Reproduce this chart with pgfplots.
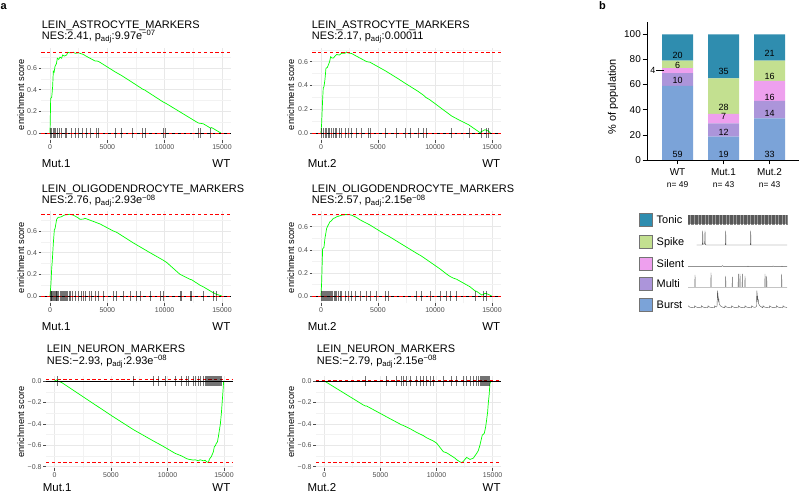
\documentclass[border=0pt]{standalone}
\usepackage{fontspec}
\setmainfont{Liberation Sans}
\usepackage{pgfplots}
\pgfplotsset{compat=1.18}

\definecolor{cTonic}{HTML}{2F8DAF}
\definecolor{cSpike}{HTML}{C3E090}
\definecolor{cSilent}{HTML}{EEA0EE}
\definecolor{cMulti}{HTML}{AC95DA}
\definecolor{cBurst}{HTML}{7BA3D8}
\definecolor{esgreen}{HTML}{00FF00}

\pgfplotsset{
  gsea/.style={
    scale only axis, height=92bp, anchor=south west,
    xmin=-750, xmax=15750,
    axis lines=left, axis line style={draw=none},
    xtick={0,5000,10000,15000}, xticklabels={0,5000,10000,15000},
    scaled x ticks=false, scaled y ticks=false,
    minor xtick={2500,7500,12500},
    grid=both,
    major grid style={black!9, line width=0.55bp},
    minor grid style={black!5, line width=0.35bp},
    tick style={color=black!70, line width=0.5bp},
    major tick length=2.8bp, minor tick length=0pt, tick align=outside,
    ticklabel style={font=\fontsize{7}{8}\selectfont, text=black!70, inner sep=1.5bp},
    clip=false,
  },
  posy/.style={ytick={0,0.2,0.4,0.6}, yticklabels={0.0,0.2,0.4,0.6}, minor ytick={0.1,0.3,0.5,0.7}},
  negy/.style={ymin=-0.812, ymax=0.047, ytick={-0.8,-0.6,-0.4,-0.2,0},
    yticklabels={−0.8,−0.6,−0.4,−0.2,0.0}, minor ytick={-0.7,-0.5,-0.3,-0.1}},
  escurve/.style={color=esgreen, line width=0.7bp},
  rug/.style={only marks, mark=|, mark size=5bp,
    mark options={draw=black, line width=0.55bp, draw opacity=0.55}},
  zeroline/.style={black, line width=0.6bp},
  esline/.style={red, line width=0.7bp, dash pattern=on 3.2bp off 2.6bp},
  trace/.style={black!65, line width=0.4bp},
}

\newcommand{\ttlfont}{\fontsize{11}{12}\selectfont}
\newcommand{\grpfont}{\fontsize{11.5}{12}\selectfont}
\newcommand{\eslfont}{\fontsize{9.3}{10}\selectfont}

\begin{document}
\begin{tikzpicture}[x=1bp, y=1bp]
\path[use as bounding box] (0,0) rectangle (800,502);

\node[anchor=base west, inner sep=0, font=\bfseries\fontsize{11}{12}\selectfont] at (0.5,492.7) {a};
\node[anchor=base west, inner sep=0, font=\bfseries\fontsize{11}{12}\selectfont] at (599,492) {b};

% ---------- row 1, Mut.1 ----------
\begin{axis}[gsea, posy, at={(41.4bp,361.5bp)}, width=189.2bp, ymin=-0.069, ymax=0.78]
\addplot[escurve] coordinates {(0,0) (60,0.32) (150,0.33) (232,0.43) (290,0.57) (360,0.56) (436,0.615)
 (560,0.64) (640,0.69) (760,0.68) (872,0.70) (1017,0.69) (1100,0.72) (1250,0.71) (1453,0.72)
 (1550,0.745) (1700,0.74) (1889,0.74) (2034,0.745) (2200,0.735) (2470,0.74) (2907,0.725)
 (3139,0.71) (3488,0.69) (3925,0.665) (4069,0.665) (4243,0.66) (5668,0.565) (6249,0.53)
 (7208,0.465) (8080,0.405) (8284,0.395) (9885,0.285) (10088,0.275) (12938,0.092) (13080,0.09)
 (13370,0.085) (14010,0.045) (14100,0.05) (14900,0)};
\addplot[rug] coordinates {(0,0)(145,0)(290,0)(378,0)(494,0)(640,0)(814,0)(1017,0)(1308,0)(1453,0)
 (1831,0)(2180,0)(2470,0)(2848,0)(3139,0)(3488,0)(4069,0)(4243,0)(5668,0)(6249,0)(7208,0)
 (8080,0)(8284,0)(9885,0)(10088,0)(12938,0)(13080,0)(14010,0)};
\addplot[zeroline] coordinates {(-750,0) (15750,0)};
\addplot[esline] coordinates {(-750,0.745) (15750,0.745)};
\addplot[esline] coordinates {(-750,0) (15750,0)};
\end{axis}

% ---------- row 1, Mut.2 ----------
\begin{axis}[gsea, posy, at={(312.4bp,361.5bp)}, width=188.1bp, ymin=-0.060, ymax=0.71]
\addplot[escurve] coordinates {(0,0) (58,0.08) (146,0.28) (200,0.38) (263,0.39) (351,0.45) (439,0.545)
 (550,0.55) (643,0.57) (760,0.60) (848,0.64) (960,0.63) (1082,0.63) (1228,0.645) (1374,0.66)
 (1608,0.655) (1813,0.67) (2105,0.67) (2251,0.68) (2397,0.672) (2690,0.668) (3128,0.645)
 (3421,0.63) (4005,0.60) (4298,0.595) (5614,0.525) (6637,0.465) (7368,0.42) (8537,0.35)
 (8976,0.32) (9210,0.30) (9561,0.28) (11461,0.145) (12046,0.115) (12981,0.07) (13947,0.006)
 (14092,0.015) (14386,0.03) (14677,0.02) (14900,0)};
\addplot[rug] coordinates {(58,0)(205,0)(351,0)(497,0)(643,0)(731,0)(877,0)(1082,0)(1228,0)(1374,0)
 (1608,0)(1813,0)(2105,0)(2397,0)(2690,0)(3128,0)(3567,0)(4152,0)(4298,0)(5614,0)(6637,0)
 (7368,0)(7806,0)(8537,0)(8976,0)(9210,0)(11461,0)(12981,0)(14092,0)(14531,0)(14677,0)};
\addplot[zeroline] coordinates {(-750,0) (15750,0)};
\addplot[esline] coordinates {(-750,0.68) (15750,0.68)};
\addplot[esline] coordinates {(-750,0) (15750,0)};
\end{axis}

% ---------- row 2, Mut.1 ----------
\begin{axis}[gsea, posy, at={(41.4bp,198.5bp)}, width=189.2bp, ymin=-0.069, ymax=0.78]
\addplot[escurve] coordinates {(0,0) (87,0.117) (145,0.25) (203,0.33) (290,0.486) (378,0.61) (436,0.62)
 (494,0.655) (581,0.708) (668,0.72) (727,0.726) (872,0.728) (1017,0.732) (1163,0.742) (1308,0.748)
 (1453,0.75) (1744,0.754) (1976,0.748) (2180,0.738) (2470,0.72) (2616,0.708) (2907,0.71)
 (3052,0.717) (3488,0.70) (4360,0.665) (5523,0.6) (5813,0.588) (7266,0.49) (8719,0.40)
 (9881,0.33) (10173,0.31) (11335,0.2) (12208,0.154) (12353,0.15) (13080,0.10) (13370,0.085)
 (14240,0.03) (14533,0.015) (14824,0.006) (14970,0)};
\addplot[rug] coordinates {(0,0)(87,0)(145,0)(203,0)(290,0)(349,0)(436,0)(523,0)(581,0)(668,0)(756,0)
 (872,0)(959,0)(1046,0)(1163,0)(1250,0)(1337,0)(1453,0)(1540,0)(1657,0)(1744,0)(1976,0)(2209,0)
 (2470,0)(2703,0)(2907,0)(3052,0)(3430,0)(3634,0)(3925,0)(4215,0)(4651,0)(5523,0)(5813,0)
 (6394,0)(6975,0)(7556,0)(7847,0)(8719,0)(9591,0)(9881,0)(11335,0)(11480,0)(12208,0)(12353,0)
 (13370,0)(14240,0)(14533,0)};
\addplot[zeroline] coordinates {(-750,0) (15750,0)};
\addplot[esline] coordinates {(-750,0.754) (15750,0.754)};
\addplot[esline] coordinates {(-750,0) (15750,0)};
\end{axis}

% ---------- row 2, Mut.2 ----------
\begin{axis}[gsea, posy, at={(312.4bp,198.5bp)}, width=188.1bp, ymin=-0.065, ymax=0.732]
\addplot[escurve] coordinates {(0,0) (58,0.11) (146,0.41) (263,0.42) (351,0.50) (439,0.55) (497,0.585)
 (614,0.61) (789,0.643) (906,0.65) (1082,0.672) (1257,0.678) (1374,0.686) (1520,0.69) (1813,0.70)
 (2105,0.705) (2397,0.707) (2690,0.70) (3128,0.68) (3421,0.66) (4005,0.63) (4298,0.615)
 (5614,0.535) (5906,0.52) (8391,0.37) (8829,0.345) (9561,0.295) (10438,0.235) (11022,0.19)
 (11315,0.17) (11607,0.155) (11899,0.145) (13070,0.08) (13507,0.045) (13655,0.04) (14094,0.009)
 (14238,0.012) (14386,0.023) (14531,0.02) (14678,0.014) (14970,0)};
\addplot[rug] coordinates {(0,0)(88,0)(175,0)(263,0)(351,0)(439,0)(526,0)(614,0)(702,0)(789,0)(906,0)
 (1023,0)(1140,0)(1257,0)(1374,0)(1520,0)(1666,0)(1813,0)(2105,0)(2397,0)(2690,0)(2982,0)
 (3421,0)(4005,0)(4298,0)(4883,0)(5614,0)(5906,0)(8391,0)(8829,0)(9561,0)(10438,0)(11022,0)
 (11315,0)(11899,0)(13507,0)(14238,0)(14531,0)};
\addplot[zeroline] coordinates {(-750,0) (15750,0)};
\addplot[esline] coordinates {(-750,0.707) (15750,0.707)};
\addplot[esline] coordinates {(-750,0) (15750,0)};
\end{axis}

% ---------- row 3, Mut.1 ----------
\begin{axis}[gsea, negy, at={(46bp,34bp)}, width=186.5bp]
\addplot[escurve] coordinates {(0,0) (209,0.012) (300,0.0) (652,-0.015) (5000,-0.32) (7000,-0.455)
 (8755,-0.56) (9197,-0.585) (9786,-0.62) (10670,-0.675) (11259,-0.70) (11701,-0.725)
 (11849,-0.73) (12291,-0.738) (12438,-0.735) (12733,-0.745) (12880,-0.735) (13175,-0.745)
 (13322,-0.74) (13469,-0.755) (13617,-0.76) (13705,-0.73) (13882,-0.705) (14058,-0.66)
 (14147,-0.61) (14235,-0.605) (14323,-0.58) (14412,-0.57) (14500,-0.52) (14588,-0.46)
 (14677,-0.40) (14765,-0.30) (14850,-0.18) (14904,-0.10) (14963,-0.006) (15000,0)};
\addplot[rug] coordinates {(209,0)(7000,0)(8755,0)(9197,0)(9786,0)(10670,0)(11259,0)(11701,0)
 (11849,0)(12291,0)(12438,0)(12733,0)(12880,0)(13175,0)(13322,0)(13469,0)(13528,0)(13617,0)
 (13705,0)(13793,0)(13882,0)(13970,0)(14058,0)(14147,0)(14235,0)(14323,0)(14412,0)(14500,0)
 (14588,0)(14677,0)(14765,0)};
\addplot[zeroline] coordinates {(-750,0) (15750,0)};
\addplot[esline] coordinates {(-750,0.015) (15750,0.015)};
\addplot[esline] coordinates {(-750,-0.76) (15750,-0.76)};
\end{axis}

% ---------- row 3, Mut.2 ----------
\begin{axis}[gsea, negy, at={(316bp,34bp)}, width=185bp]
\addplot[escurve] coordinates {(0,0) (3478,-0.224) (3626,-0.232) (3775,-0.234) (5557,-0.335)
 (6448,-0.385) (6893,-0.41) (7042,-0.415) (7339,-0.43) (7636,-0.445) (8230,-0.48) (8527,-0.495)
 (8824,-0.51) (9121,-0.53) (9418,-0.545) (9715,-0.56) (10011,-0.58) (10606,-0.66) (10902,-0.67)
 (11348,-0.70) (11644,-0.72) (11794,-0.735) (12238,-0.763) (12388,-0.75) (12683,-0.713)
 (12982,-0.732) (13279,-0.72) (13576,-0.676) (13724,-0.65) (13873,-0.598) (14021,-0.53)
 (14079,-0.505) (14200,-0.495) (14257,-0.489) (14378,-0.43) (14465,-0.364) (14556,-0.29)
 (14614,-0.209) (14700,-0.12) (14762,-0.022) (14851,0)};
\addplot[rug] coordinates {(3626,0)(5557,0)(6448,0)(6893,0)(7042,0)(7339,0)(7636,0)(8230,0)(8527,0)
 (8824,0)(9121,0)(9418,0)(9715,0)(10606,0)(11348,0)(11794,0)(12388,0)(12685,0)(12982,0)
 (13279,0)(13576,0)(13724,0)(13873,0)(14021,0)(14111,0)(14200,0)(14289,0)(14378,0)(14467,0)
 (14556,0)(14645,0)(14734,0)};
\addplot[zeroline] coordinates {(-750,0) (15750,0)};
\addplot[esline] coordinates {(-750,0.01) (15750,0.01)};
\addplot[esline] coordinates {(-750,-0.763) (15750,-0.763)};
\end{axis}

% ---------- titles and labels of panel a ----------
\begin{scope}[every node/.style={anchor=base west, inner sep=0}]
\node[font=\ttlfont] at (41.7,473.3) {LEIN\_ASTROCYTE\_MARKERS};
\node[font=\ttlfont] at (41.7,462.5) {NES:2.41, p\textsubscript{adj}:9.97e\textsuperscript{−07}};
\node[font=\ttlfont] at (311.7,473.3) {LEIN\_ASTROCYTE\_MARKERS};
\node[font=\ttlfont] at (311.7,462.5) {NES:2.17, p\textsubscript{adj}:0.00011};
\node[font=\ttlfont] at (41.7,309.7) {LEIN\_OLIGODENDROCYTE\_MARKERS};
\node[font=\ttlfont] at (41.7,298) {NES:2.76, p\textsubscript{adj}:2.93e\textsuperscript{−08}};
\node[font=\ttlfont] at (311.7,309.7) {LEIN\_OLIGODENDROCYTE\_MARKERS};
\node[font=\ttlfont] at (311.7,298) {NES:2.57, p\textsubscript{adj}:2.15e\textsuperscript{−08}};
\node[font=\ttlfont] at (46.7,149.3) {LEIN\_NEURON\_MARKERS};
\node[font=\ttlfont] at (46.7,137.7) {NES:−2.93, p\textsubscript{adj}:2.93e\textsuperscript{−08}};
\node[font=\ttlfont] at (316.7,149.3) {LEIN\_NEURON\_MARKERS};
\node[font=\ttlfont] at (316.7,137.7) {NES:−2.79, p\textsubscript{adj}:2.15e\textsuperscript{−08}};
\node[font=\grpfont] at (41.7,334.3) {Mut.1};
\node[font=\grpfont] at (307.7,334.3) {Mut.2};
\node[font=\grpfont] at (41.7,171.3) {Mut.1};
\node[font=\grpfont] at (307.7,171.3) {Mut.2};
\node[font=\grpfont] at (42.7,10.3) {Mut.1};
\node[font=\grpfont] at (307.3,10.3) {Mut.2};
\end{scope}
\begin{scope}[every node/.style={anchor=base east, inner sep=0, font=\grpfont}]
\node at (230.5,334.3) {WT};
\node at (500.3,334.3) {WT};
\node at (230.5,171.3) {WT};
\node at (500.3,171.3) {WT};
\node at (230.5,10.3) {WT};
\node at (500.7,10.3) {WT};
\end{scope}
\begin{scope}[every node/.style={rotate=90, inner sep=0, font=\eslfont}]
\node at (20.7,407.5) {enrichment score};
\node at (290.7,407.5) {enrichment score};
\node at (20.7,244.5) {enrichment score};
\node at (290.7,244.5) {enrichment score};
\node at (20.7,80) {enrichment score};
\node at (290.7,80) {enrichment score};
\end{scope}

% ---------- panel b: stacked bars ----------
\begin{axis}[scale only axis, anchor=south west, at={(647bp,342bp)}, width=152bp, height=138.3bp,
  xmin=-0.663, xmax=2.64, ymin=0, ymax=110,
  axis lines=left, axis line style={-, line width=0.6bp},
  ybar stacked, bar width=0.674,
  xtick={0,1,2},
  xticklabels={{WT\\[2bp]{\fontsize{8.5}{9}\selectfont n= 49}},
               {Mut.1\\[2bp]{\fontsize{8.5}{9}\selectfont n= 43}},
               {Mut.2\\[2bp]{\fontsize{8.5}{9}\selectfont n= 43}}},
  ytick={0,20,40,60,80,100}, yticklabels={0,20,40,60,80,100},
  tick style={black, line width=0.6bp}, major tick length=4.5bp, tick align=outside,
  xticklabel style={align=center, font=\fontsize{10}{10.5}\selectfont, inner sep=1bp, yshift=-2.5bp},
  yticklabel style={font=\fontsize{10}{11}\selectfont, inner sep=1.5bp},
  every axis plot/.append style={draw=none},
]
\addplot[fill=cBurst]  coordinates {(0,59) (1,18.5) (2,33)};
\addplot[fill=cMulti]  coordinates {(0,10) (1,10.7) (2,14)};
\addplot[fill=cSilent] coordinates {(0,4)  (1,7.4)  (2,16)};
\addplot[fill=cSpike]  coordinates {(0,6)  (1,28.4) (2,16)};
\addplot[fill=cTonic]  coordinates {(0,21) (1,35)   (2,21)};
\end{axis}

% segment labels
\begin{axis}[scale only axis, anchor=south west, at={(647bp,342bp)}, width=152bp, height=138.3bp,
  xmin=-0.663, xmax=2.64, ymin=0, ymax=110, hide axis, clip=false]
\addplot[draw=none, nodes near coords, point meta=explicit symbolic,
  every node near coord/.append style={anchor=center, inner sep=0, font=\fontsize{9}{10}\selectfont}]
  coordinates {(0,4.8)[59] (0,63.3)[10] (0,75.2)[6] (0,83.5)[20] (-0.535,71.4)[4]
   (1,4.8)[19] (1,21.8)[12] (1,34.4)[7] (1,41.9)[28] (1,70.3)[35]
   (2,4.8)[33] (2,36.8)[14] (2,50)[16] (2,66.3)[16] (2,84.9)[21]};
\addplot[black, line width=0.6bp] coordinates {(-0.46,71.4) (-0.29,71.4)};
\end{axis}

\node[rotate=90, inner sep=0, font=\fontsize{11}{12}\selectfont] at (613,405) {\% of population};

% ---------- legend ----------
\begin{scope}[every node/.style={anchor=base west, inner sep=0, font=\fontsize{11}{12}\selectfont}]
\draw[fill=cTonic, draw=black!55, line width=0.5bp] (639.3,275.3) rectangle (652.7,288.7);
\node at (656.5,278) {Tonic};
\draw[fill=cSpike, draw=black!55, line width=0.5bp] (639.3,253.3) rectangle (652.7,266.7);
\node at (656.5,256) {Spike};
\draw[fill=cSilent, draw=black!55, line width=0.5bp] (639.3,231.6) rectangle (652.7,245);
\node at (656.5,234.3) {Silent};
\draw[fill=cMulti, draw=black!55, line width=0.5bp] (639.3,211.6) rectangle (652.7,225);
\node at (656.5,214.3) {Multi};
\draw[fill=cBurst, draw=black!55, line width=0.5bp] (639.3,190.8) rectangle (652.7,204.2);
\node at (656.5,193.5) {Burst};
\end{scope}

% example traces
\begin{axis}[scale only axis, anchor=south west, at={(687bp,190bp)}, width=100bp, height=100bp,
  xmin=0, xmax=100, ymin=0, ymax=100, hide axis, clip=false]
\addplot[fill=black!40, draw=none] coordinates {(0.7,88) (100.3,88) (100.3,96.5) (0.7,96.5)} -- cycle;
\addplot[only marks, mark=|, mark size=4.8bp, mark options={draw=black!85, line width=0.4bp, draw opacity=0.55}]
 coordinates {(1,92)(2.5,92)(4,92)(5,92)(6.5,92)(8,92)(9,92)(10.5,92)(12,92)(13.5,92)(15,92)(16,92)
 (17.5,92)(19,92)(20.5,92)(22,92)(23,92)(24.5,92)(26,92)(27.5,92)(29,92)(30,92)(31.5,92)(33,92)
 (34.5,92)(36,92)(37,92)(38.5,92)(40,92)(41.5,92)(43,92)(44,92)(45.5,92)(47,92)(48.5,92)(50,92)
 (51,92)(52.5,92)(54,92)(55.5,92)(57,92)(58,92)(59.5,92)(61,92)(62.5,92)(64,92)(65,92)(66.5,92)
 (68,92)(69.5,92)(71,92)(72,92)(73.5,92)(75,92)(76.5,92)(78,92)(79,92)(80.5,92)(82,92)(83.5,92)
 (85,92)(86,92)(87.5,92)(89,92)(90.5,92)(92,92)(93,92)(94.5,92)(96,92)(97.5,92)(99,92)(100,92)};
\addplot[trace] coordinates {(9.7,67)(14.8,67)(15.4,67.6)(15.7,81.3)(16,67.8)(17.6,68)(18,81.3)(18.3,67.6)
 (19,67)(38.4,67)(38.7,81.3)(39,67)(63.4,67)(63.7,81.3)(64,67)(100,67)};
\addplot[trace] coordinates {(1,45.3)(34,45.3)(35.5,46.3)(37,45.3)(60,45.3)(61,45.8)(62,45.3)(85,45.3)
 (86,46)(87,45.3)(94,45.3)(95,45.8)(96,45.3)(100,45.3)};
\addplot[trace] coordinates {(1,24.7)(7.8,24.7)(8,37)(8.2,24.7)(23.8,24.7)(24,39.3)(24.2,24.7)
 (38.5,24.7)(38.7,36)(38.9,24.7)(45.1,24.7)(45.3,35)(45.5,24.7)(51.1,24.7)(51.3,38)(51.5,24.7)
 (52.8,24.7)(53,38)(53.2,24.7)(55.1,24.7)(55.3,38)(55.5,24.7)(57.8,24.7)(58,36)(58.2,24.7)
 (77.8,24.7)(78,38)(78.2,24.7)(79.5,24.7)(79.7,36)(79.9,24.7)(94.5,24.7)(94.7,38)(94.9,24.7)(100,24.7)};
\addplot[trace] coordinates {(1.3,6.2)(2.5,5)(4.5,4.4)(7.5,4.2)(7.7,6.2)(9.2,5)(11.2,4.4)(14.1,4.2)
 (14.3,6.2)(15.8,5)(17.8,4.4)(20.8,4.2)(21,6.2)(22.5,5)(24.5,4.4)(27.5,4.2)(27.7,6.2)(29.2,5)
 (30,5.5)(30.2,12)(30.4,21.3)(30.6,14)(30.8,19)(31,12)(31.2,16)(31.5,10)(31.8,13)(32.3,8)(33.5,6)
 (35,5)(37.8,4.2)(38,6.2)(39.5,5)(41.5,4.4)(44.5,4.2)(44.7,6.2)(46.2,5)(48.2,4.4)(51.1,4.2)
 (51.3,6.2)(52.8,5)(54.8,4.4)(57.8,4.2)(58,6.2)(59.5,5)(61.5,4.4)(64.5,4.2)(64.7,6.2)(66.2,5)
 (68,4.6)(69.4,5.5)(69.6,12)(69.8,21.3)(70,14)(70.2,19)(70.4,12)(70.6,16)(70.9,10)(71.2,13)
 (71.7,8)(73,6)(74.5,5)(75.8,4.2)(76,6.2)(77.5,5)(79.5,4.4)(82.5,4.2)(82.7,6.2)(84.2,5)(86.2,4.4)
 (89.1,4.2)(89.3,6.2)(90.8,5)(92.8,4.4)(95.8,4.2)(96,6.2)(97.5,5)(100,4.5)};
\end{axis}

\end{tikzpicture}
\end{document}
